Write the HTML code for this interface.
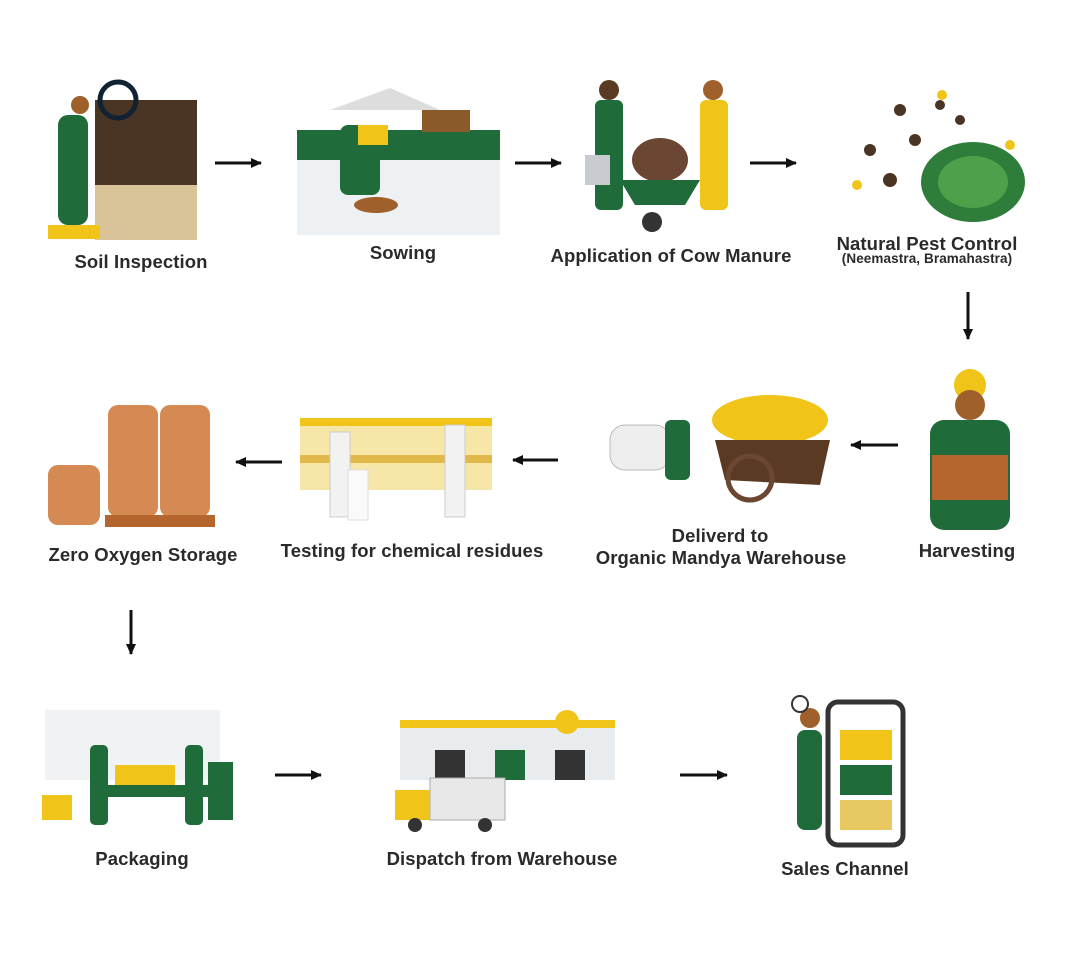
<!DOCTYPE html>
<html><head><meta charset="utf-8"><style>
html,body{margin:0;padding:0;background:#fff;}
body{width:1079px;height:964px;position:relative;overflow:hidden;font-family:"Liberation Sans",sans-serif;}
.l{position:absolute;font-size:18.5px;font-weight:bold;color:#2a2a2a;white-space:nowrap;transform:translateX(-50%);letter-spacing:0.1px}
.s{font-size:13.5px}
svg{position:absolute;left:0;top:0}
</style></head><body>
<svg width="1079" height="964" viewBox="0 0 1079 964">
<defs><marker id="a" markerWidth="12" markerHeight="12" refX="10" refY="6" orient="auto" markerUnits="userSpaceOnUse"><path d="M0,1 L11,6 L0,11 Z" fill="#111"/></marker></defs>
<g stroke="#111" stroke-width="3" marker-end="url(#a)">
<line x1="215" y1="163" x2="261" y2="163"/>
<line x1="515" y1="163" x2="561" y2="163"/>
<line x1="750" y1="163" x2="796" y2="163"/>
<line x1="968" y1="292" x2="968" y2="339"/>
<line x1="898" y1="445" x2="851" y2="445"/>
<line x1="558" y1="460" x2="513" y2="460"/>
<line x1="282" y1="462" x2="236" y2="462"/>
<line x1="131" y1="610" x2="131" y2="654"/>
<line x1="275" y1="775" x2="321" y2="775"/>
<line x1="680" y1="775" x2="727" y2="775"/>
</g>
<!-- Soil inspection -->
<rect x="95" y="100" width="102" height="140" fill="#4a3424"/>
<rect x="95" y="185" width="102" height="55" fill="#d9c49a"/>
<circle cx="118" cy="100" r="18" fill="none" stroke="#123" stroke-width="5"/>
<rect x="58" y="115" width="30" height="110" rx="10" fill="#1f6b3a"/>
<circle cx="80" cy="105" r="9" fill="#a0602c"/>
<rect x="48" y="225" width="52" height="14" fill="#f0c419"/>
<!-- Sowing -->
<polygon points="330,110 390,88 440,110" fill="#ddd"/>
<rect x="297" y="130" width="203" height="30" fill="#1f6b3a"/>
<rect x="297" y="160" width="203" height="75" fill="#eef1f3"/>
<rect x="422" y="110" width="48" height="22" fill="#8a5a2b"/>
<rect x="340" y="125" width="40" height="70" rx="8" fill="#1f6b3a"/>
<rect x="358" y="125" width="30" height="20" fill="#f0c419"/>
<ellipse cx="376" cy="205" rx="22" ry="8" fill="#a0602c"/>
<!-- Cow manure -->
<rect x="595" y="100" width="28" height="110" rx="6" fill="#1f6b3a"/>
<circle cx="609" cy="90" r="10" fill="#5a3a22"/>
<rect x="700" y="100" width="28" height="110" rx="6" fill="#f0c419"/>
<circle cx="713" cy="90" r="10" fill="#a0602c"/>
<ellipse cx="660" cy="160" rx="28" ry="22" fill="#6b4632"/>
<polygon points="620,180 700,180 685,205 635,205" fill="#1f6b3a"/>
<circle cx="652" cy="222" r="10" fill="#333"/>
<rect x="585" y="155" width="25" height="30" fill="#c8ccd0"/>
<!-- Pest -->
<ellipse cx="973" cy="182" rx="52" ry="40" fill="#2e7d3a"/>
<ellipse cx="973" cy="182" rx="35" ry="26" fill="#4fa04a"/>
<g fill="#4a3424"><circle cx="870" cy="150" r="6"/><circle cx="900" cy="110" r="6"/><circle cx="940" cy="105" r="5"/><circle cx="890" cy="180" r="7"/><circle cx="915" cy="140" r="6"/><circle cx="960" cy="120" r="5"/></g>
<g fill="#f0c419"><circle cx="857" cy="185" r="5"/><circle cx="942" cy="95" r="5"/><circle cx="1010" cy="145" r="5"/></g>
<!-- Harvesting -->
<circle cx="970" cy="385" r="16" fill="#f0c419"/>
<circle cx="970" cy="405" r="15" fill="#a0602c"/>
<rect x="930" y="420" width="80" height="110" rx="14" fill="#1f6b3a"/>
<rect x="932" y="455" width="76" height="45" fill="#b5652e"/>
<!-- Cart -->
<rect x="610" y="425" width="60" height="45" rx="15" fill="#eee" stroke="#bbb"/>
<rect x="665" y="420" width="25" height="60" rx="6" fill="#1f6b3a"/>
<ellipse cx="770" cy="420" rx="58" ry="25" fill="#f0c419"/>
<polygon points="715,440 830,440 820,485 725,480" fill="#5a3a22"/>
<circle cx="750" cy="478" r="22" fill="none" stroke="#6b4632" stroke-width="5"/>
<!-- Lab -->
<rect x="300" y="420" width="192" height="70" fill="#f6e7a8"/>
<rect x="300" y="418" width="192" height="8" fill="#f0c419"/>
<rect x="300" y="455" width="192" height="8" fill="#e0b94a"/>
<rect x="330" y="432" width="20" height="85" fill="#f2f2f2" stroke="#ccc"/>
<rect x="445" y="425" width="20" height="92" fill="#f2f2f2" stroke="#ccc"/>
<rect x="348" y="470" width="20" height="50" fill="#fafafa" stroke="#ddd"/>
<!-- Sacks -->
<g fill="#d48a52"><rect x="108" y="405" width="50" height="112" rx="10"/><rect x="160" y="405" width="50" height="112" rx="10"/><rect x="48" y="465" width="52" height="60" rx="10"/></g>
<rect x="105" y="515" width="110" height="12" fill="#b5652e"/>
<!-- Packaging -->
<rect x="45" y="710" width="175" height="70" fill="#f1f2f4"/>
<rect x="108" y="785" width="100" height="12" fill="#1f6b3a"/>
<rect x="208" y="762" width="25" height="58" fill="#1f6b3a"/>
<rect x="115" y="765" width="60" height="20" fill="#f0c419"/>
<rect x="90" y="745" width="18" height="80" rx="5" fill="#1f6b3a"/>
<rect x="185" y="745" width="18" height="80" rx="5" fill="#1f6b3a"/>
<rect x="42" y="795" width="30" height="25" fill="#f0c419"/>
<!-- Warehouse -->
<rect x="400" y="725" width="215" height="55" fill="#e9ecee"/>
<rect x="400" y="720" width="215" height="8" fill="#f0c419"/>
<rect x="435" y="750" width="30" height="30" fill="#333"/>
<rect x="495" y="750" width="30" height="30" fill="#1f6b3a"/>
<rect x="555" y="750" width="30" height="30" fill="#333"/>
<rect x="430" y="778" width="75" height="42" fill="#e8e8e8" stroke="#aaa"/>
<rect x="395" y="790" width="35" height="30" fill="#f0c419"/>
<circle cx="415" cy="825" r="7" fill="#333"/><circle cx="485" cy="825" r="7" fill="#333"/>
<circle cx="567" cy="722" r="12" fill="#f0c419"/>
<!-- Sales -->
<rect x="828" y="702" width="75" height="143" rx="10" fill="#fff" stroke="#333" stroke-width="5"/>
<rect x="840" y="730" width="52" height="30" fill="#f0c419"/>
<rect x="840" y="765" width="52" height="30" fill="#1f6b3a"/>
<rect x="840" y="800" width="52" height="30" fill="#e8c860"/>
<rect x="797" y="730" width="25" height="100" rx="8" fill="#1f6b3a"/>
<circle cx="810" cy="718" r="10" fill="#a0602c"/>
<circle cx="800" cy="704" r="8" fill="#fff" stroke="#333" stroke-width="2"/>
</svg>
<div class="l" style="left:141px;top:251px">Soil Inspection</div>
<div class="l" style="left:403px;top:242px">Sowing</div>
<div class="l" style="left:671px;top:245px">Application of Cow Manure</div>
<div class="l" style="left:927px;top:233px">Natural Pest Control</div>
<div class="l s" style="left:927px;top:251px">(Neemastra, Bramahastra)</div>
<div class="l" style="left:967px;top:540px">Harvesting</div>
<div class="l" style="left:720px;top:525px">Deliverd to</div>
<div class="l" style="left:721px;top:547px">Organic Mandya Warehouse</div>
<div class="l" style="left:412px;top:540px">Testing for chemical residues</div>
<div class="l" style="left:143px;top:544px">Zero Oxygen Storage</div>
<div class="l" style="left:142px;top:848px">Packaging</div>
<div class="l" style="left:502px;top:848px">Dispatch from Warehouse</div>
<div class="l" style="left:845px;top:858px">Sales Channel</div>
</body></html>
